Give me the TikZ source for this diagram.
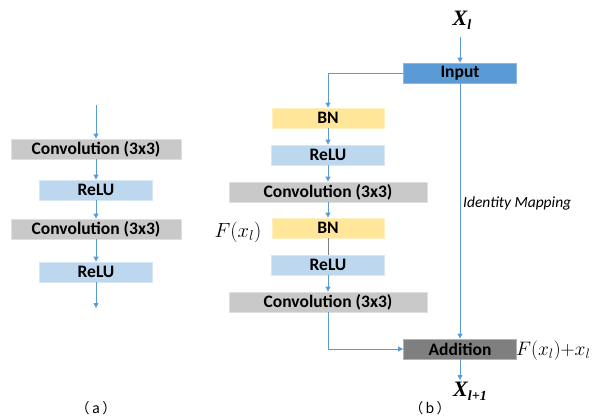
\RequirePackage{fix-cm}
\documentclass[tikz,border=0pt]{standalone}
\usepackage{fontspec}
\usepackage{amsmath}
\usetikzlibrary{arrows.meta}
\newfontfamily\carlito{Carlito}
\newfontfamily\cjk{Noto Sans CJK SC}
\newfontfamily\tnr{Liberation Serif}
\definecolor{lgray}{HTML}{C9C9C9}
\definecolor{lblue}{HTML}{BDD7EE}
\definecolor{lyel}{HTML}{FFE699}
\definecolor{mblue}{HTML}{5B9BD5}
\definecolor{dgray}{HTML}{7F7F7F}
\definecolor{arr}{HTML}{5B9BD5}
\tikzset{
  blk/.style={inner sep=0pt, minimum height=20pt, font=\carlito\bfseries\fontsize{17.5}{19}\selectfont, text=black},
  convbox/.style={blk, fill=lgray, draw=lgray!60!white, line width=0.8pt, minimum width=170pt},
  convwide/.style={convbox, minimum width=198pt},
  relubox/.style={blk, fill=lblue, draw=lblue!60!white, line width=0.8pt, minimum width=113pt},
  bnbox/.style={blk, fill=lyel, draw=lyel!60!white, line width=0.8pt, minimum width=112pt},
  inbox/.style={blk, fill=mblue, draw=mblue!70!white, line width=0.8pt, minimum width=113pt},
  addbox/.style={blk, fill=dgray, draw=dgray!60!white, line width=0.8pt, minimum width=113pt},
  con/.style={draw=arr, line width=0.8pt, -{Triangle[width=5pt,length=5pt]}},
  capt/.style={font=\cjk\fontsize{14}{16}\selectfont, inner sep=0pt},
  xlab/.style={inner sep=0pt, font=\tnr\bfseries\itshape\fontsize{22}{24}\selectfont},
  flab/.style={inner sep=0pt, font=\fontsize{20.5}{22}\selectfont},
}
\begin{document}
\begin{tikzpicture}[x=1pt,y=-1pt]
\useasboundingbox (0,0) rectangle (593,418);
% (a)
\coordinate (atop) at (96,105);
\node[convbox] (ca1) at (96,149) {Convolution (3x3)};
\node[relubox] (ra1) at (96,190) {ReLU};
\node[convbox] (ca2) at (96,229) {Convolution (3x3)};
\node[relubox] (ra2) at (96,272) {ReLU};
\coordinate (abot) at (96,308);
\draw[con] (atop) -- (ca1.north);
\draw[con] (ca1) -- (ra1);
\draw[con] (ra1) -- (ca2);
\draw[con] (ca2) -- (ra2);
\draw[con] (ra2.south) -- (abot);
\node[capt] (la) at (96,408) {（\,a\,）};
% (b)
\node[xlab] (xl) at (462,20) {X\raisebox{-4pt}{\fontsize{14}{16}\selectfont l}};
\node[inbox] (inp) at (460,73) {Input};
\node[bnbox] (bn1) at (328,118) {BN};
\node[relubox] (rb1) at (328,155) {ReLU};
\node[convwide] (cb1) at (328,192) {Convolution (3x3)};
\node[bnbox] (bn2) at (328,228) {BN};
\node[relubox] (rb2) at (328,265) {ReLU};
\node[convwide] (cb2) at (328,302) {Convolution (3x3)};
\node[addbox] (add) at (460,349) {Addition};
\node[xlab, anchor=north] (xl1) at (470,382) {X\raisebox{-4pt}{\fontsize{14}{16}\selectfont l+1}};
\coordinate (xl1top) at (460,380);
\node[flab] (fx) at (238,232) {$F(x_l)$};
\node[inner sep=0pt, anchor=west, font=\fontsize{19.5}{21}\selectfont] (fxx) at (516,351) {$F(x_l){+}x_l$};
\node[inner sep=0pt, anchor=west, font=\carlito\itshape\fontsize{15.5}{17}\selectfont] (idm) at (463,203) {Identity Mapping};
\node[capt] (lb) at (430,408) {（\,b\,）};
\coordinate (xlbot) at (460,37);
\draw[con] (xlbot) -- (inp.north);
\draw[con] (inp.west) -| (bn1.north);
\draw[con] (bn1) -- (rb1);
\draw[con] (rb1) -- (cb1);
\draw[con] (cb1) -- (bn2);
\draw[draw=dgray, line width=0.8pt] (bn2) -- (rb2);
\draw[con] (rb2) -- (cb2);
\draw[con] (cb2.south) |- (add.west);
\draw[con] (inp.south) -- (add.north);
\draw[con] (add.south) -- (xl1top);
\end{tikzpicture}
\end{document}
